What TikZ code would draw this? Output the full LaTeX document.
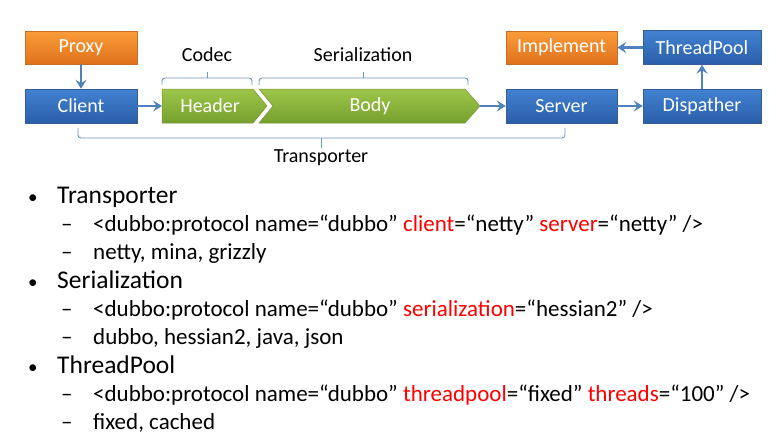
\documentclass[tikz,border=0pt]{standalone}
\usepackage{fontspec}
\setmainfont{Carlito}
\usetikzlibrary{arrows.meta}
\definecolor{bluetop}{RGB}{66,130,210}
\definecolor{bluebot}{RGB}{42,94,168}
\definecolor{blueedge}{RGB}{56,93,150}
\definecolor{orangetop}{RGB}{250,156,58}
\definecolor{orangebot}{RGB}{224,114,28}
\definecolor{orangeedge}{RGB}{200,110,40}
\definecolor{greentop}{RGB}{158,198,74}
\definecolor{greenbot}{RGB}{118,160,46}
\definecolor{greenedge}{RGB}{120,150,60}
\definecolor{conn}{RGB}{79,129,189}
\definecolor{bracecol}{RGB}{110,150,200}
\definecolor{attr}{RGB}{255,0,0}
\tikzset{
  boxfont/.style={font=\fontsize{20}{24}\selectfont},
  bluebox/.style={boxfont, text=white, minimum height=34pt, inner sep=0pt,
    top color=bluetop, bottom color=bluebot, draw=blueedge, line width=0.5pt},
  orangebox/.style={boxfont, text=white, minimum height=33pt, inner sep=0pt,
    top color=orangetop, bottom color=orangebot, draw=orangeedge, line width=0.5pt},
  greenshape/.style={top color=greentop, bottom color=greenbot, draw=greenedge, line width=0.5pt},
  lbl/.style={boxfont, text=white, inner sep=0pt},
  conarrow/.style={draw=conn, line width=2.4pt, -{Stealth[length=9pt,width=11pt,inset=3.5pt]}},
  bracepath/.style={draw=bracecol, line width=0.9pt, rounded corners=3pt},
  bracelabel/.style={boxfont, text=black, inner sep=0pt},
  bulletitem/.style={font=\fontsize{19}{24}\selectfont, anchor=base west, inner sep=0pt},
  mainitem/.style={font=\fontsize{25.5}{30}\selectfont, anchor=base west, inner sep=0pt},
  subitem/.style={font=\fontsize{23}{27}\selectfont, anchor=base west, inner sep=0pt},
}
\begin{document}
\begin{tikzpicture}[x=1pt,y=-1pt]
\useasboundingbox[fill=white] (0,0) rectangle (778,442);

% boxes
\node[orangebox, minimum width=112pt] (proxy) at (81,47.5) {Proxy};
\node[bluebox, minimum width=112pt] (client) at (81,106) {Client};
\node[orangebox, minimum width=111pt] (implement) at (561.5,47.5) {Implement};
\node[bluebox, minimum width=118pt] (threadpool) at (702,47.5) {ThreadPool};
\node[bluebox, minimum width=111pt] (server) at (561.5,106) {Server};
\node[bluebox, minimum width=118pt] (dispather) at (702,106) {Dispather};

% chevrons
\path[greenshape] (162,89) -- (253,89) -- (267,106) -- (253,123) -- (162,123) -- cycle;
\path[greenshape] (259,89) -- (465,89) -- (480,106) -- (465,123) -- (259,123) -- (273,106) -- cycle;
\node[lbl] (header) at (210,106) {Header};
\node[lbl] (body) at (370,106) {Body};
\coordinate (headerW) at (162,106);
\coordinate (bodyE) at (480,106);

% connectors
\draw[conarrow] (proxy.south) -- (client.north);
\draw[conarrow] (client.east) -- (headerW);
\draw[conarrow] (bodyE) -- (server.west);
\draw[conarrow] (server.east) -- (dispather.west);
\draw[conarrow] (dispather.north) -- (threadpool.south);
\draw[conarrow] (threadpool.west) -- (implement.east);

% braces
\draw[bracepath] (162,85) -- (162,78) -- (252,78) -- (252,85);
\draw[draw=bracecol, line width=0.9pt] (207,78) -- (207,72);
\node[bracelabel] (codec) at (207,55) {Codec};
\draw[bracepath] (259,85) -- (259,78) -- (468,78) -- (468,85);
\draw[draw=bracecol, line width=0.9pt] (363,78) -- (363,72);
\node[bracelabel] (serial) at (363,55) {Serialization};
\draw[bracepath] (78,128) -- (78,138) -- (565,138) -- (565,128);
\draw[draw=bracecol, line width=0.9pt] (321,138) -- (321,148);
\node[bracelabel] (transp) at (321,158) {Transporter};

% bullet list
\node[bulletitem] (b1) at (28,203) {•};
\node[mainitem] (t1) at (57,203) {Transporter};
\node[subitem] (d11) at (61,231) {–};
\node[subitem] (s11) at (93,231) {<dubbo:protocol name=“dubbo” \textcolor{attr}{client}=“netty” \textcolor{attr}{server}=“netty” />};
\node[subitem] (d12) at (61,259) {–};
\node[subitem] (s12) at (93,259) {netty, mina, grizzly};

\node[bulletitem] (b2) at (28,288) {•};
\node[mainitem] (t2) at (57,288) {Serialization};
\node[subitem] (d21) at (61,316) {–};
\node[subitem] (s21) at (93,316) {<dubbo:protocol name=“dubbo” \textcolor{attr}{serialization}=“hessian2” />};
\node[subitem] (d22) at (61,344) {–};
\node[subitem] (s22) at (93,344) {dubbo, hessian2, java, json};

\node[bulletitem] (b3) at (28,373) {•};
\node[mainitem] (t3) at (57,373) {ThreadPool};
\node[subitem] (d31) at (61,401) {–};
\node[subitem] (s31) at (93,401) {<dubbo:protocol name=“dubbo” \textcolor{attr}{threadpool}=“fixed” \textcolor{attr}{threads}=“100” />};
\node[subitem] (d32) at (61,429) {–};
\node[subitem] (s32) at (93,429) {fixed, cached};
\end{tikzpicture}
\end{document}
